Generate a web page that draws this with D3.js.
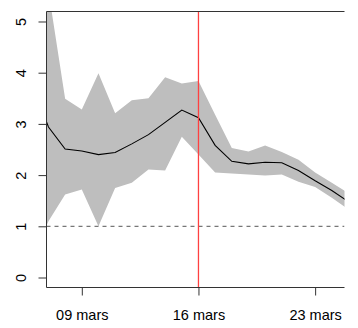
<!DOCTYPE html>
<html>
<head>
<meta charset="utf-8">
<script src="https://cdn.jsdelivr.net/npm/d3@7"></script>
<style>
  body { margin: 0; background: #fff; }
  svg { display: block; }
  text { font-family: "Liberation Sans", Arial, sans-serif; }
</style>
</head>
<body>
<svg></svg>
<script>
// day of month (mars)
const days = [6, 7, 8, 9, 10, 11, 12, 13, 14, 15, 16, 17, 18, 19, 20, 21, 22, 23, 24, 25];
const mean = [3.8, 2.94, 2.51, 2.47, 2.4, 2.44, 2.61, 2.79, 3.03, 3.27, 3.12, 2.58, 2.27, 2.22, 2.25, 2.24, 2.09, 1.89, 1.7, 1.48];
const upper = [6.5, 5.6, 3.49, 3.28, 3.99, 3.21, 3.46, 3.5, 3.91, 3.79, 3.84, 3.18, 2.53, 2.46, 2.58, 2.45, 2.3, 2.05, 1.85, 1.65];
const lower = [0.35, 1.1, 1.62, 1.72, 1.0, 1.75, 1.85, 2.11, 2.09, 2.75, 2.4, 2.05, 2.03, 2.01, 1.99, 2.01, 1.87, 1.77, 1.56, 1.33];

const xTicks = [9, 16, 23];
const xTickLabels = ["09 mars", "16 mars", "23 mars"];
const yTicks = [0, 1, 2, 3, 4, 5];
const refLine = 1;
const markDay = 16;

const svgWidth = 358;
const svgHeight = 328;
const plotLeft = 46.5, plotRight = 344.5, plotTop = 11.5, plotBottom = 287.5;

const svg = d3.select("svg")
  .attr("width", svgWidth)
  .attr("height", svgHeight);

const xScale = d3.scaleLinear()
  .domain([6.882, 24.762])
  .range([plotLeft, plotRight]);

const yScale = d3.scaleLinear()
  .domain([-0.195, 5.195])
  .range([plotBottom, plotTop]);

svg.append("defs").append("clipPath")
  .attr("id", "plot")
  .append("rect")
  .attr("x", plotLeft).attr("y", plotTop)
  .attr("width", plotRight - plotLeft).attr("height", plotBottom - plotTop);

const rows = days.map((d, i) => ({ d: d, m: mean[i], hi: upper[i], lo: lower[i] }));

const g = svg.append("g").attr("clip-path", "url(#plot)");

// confidence band
g.append("path")
  .datum(rows)
  .attr("fill", "#bebebe")
  .attr("d", d3.area()
    .x(r => xScale(r.d))
    .y0(r => yScale(r.lo))
    .y1(r => yScale(r.hi)));

// reference line at 1
g.append("line")
  .attr("x1", plotLeft).attr("x2", plotRight)
  .attr("y1", yScale(refLine)).attr("y2", yScale(refLine))
  .attr("stroke", "#555")
  .attr("stroke-dasharray", "4,4");

// mean
g.append("path")
  .datum(rows)
  .attr("fill", "none")
  .attr("stroke", "#000")
  .attr("stroke-width", 1.1)
  .attr("d", d3.line()
    .x(r => xScale(r.d))
    .y(r => yScale(r.m)));

// red marker
g.append("line")
  .attr("x1", xScale(markDay)).attr("x2", xScale(markDay))
  .attr("y1", plotTop).attr("y2", plotBottom)
  .attr("stroke", "#ff4040")
  .attr("stroke-width", 1.3);

// box: top, left, bottom
svg.append("path")
  .attr("fill", "none")
  .attr("stroke", "#333")
  .attr("d", `M${plotRight},${plotTop}H${plotLeft}V${plotBottom}H${plotRight}`);

const x_axis = d3.axisBottom(xScale)
  .tickValues(xTicks)
  .tickFormat((d, i) => xTickLabels[i])
  .tickSize(8)
  .tickPadding(14);

const y_axis = d3.axisLeft(yScale)
  .tickValues(yTicks)
  .tickFormat(d3.format("d"))
  .tickSize(8);

const gx = svg.append("g")
  .attr("transform", "translate(0," + plotBottom + ")")
  .call(x_axis);
gx.select(".domain").remove();
gx.selectAll("line").attr("stroke", "#333");
gx.selectAll("text")
  .attr("fill", "#000")
  .style("font-size", "14.5px")
  .attr("dy", "0.7em");

const gy = svg.append("g")
  .attr("transform", "translate(" + plotLeft + ",0)")
  .call(y_axis);
gy.select(".domain").remove();
gy.selectAll("line").attr("stroke", "#333");
gy.selectAll("text")
  .attr("fill", "#000")
  .style("font-size", "14.5px")
  .attr("text-anchor", "middle")
  .attr("x", 0).attr("dy", 0)
  .attr("transform", "translate(-20.5,0) rotate(-90)");
</script>
</body>
</html>
